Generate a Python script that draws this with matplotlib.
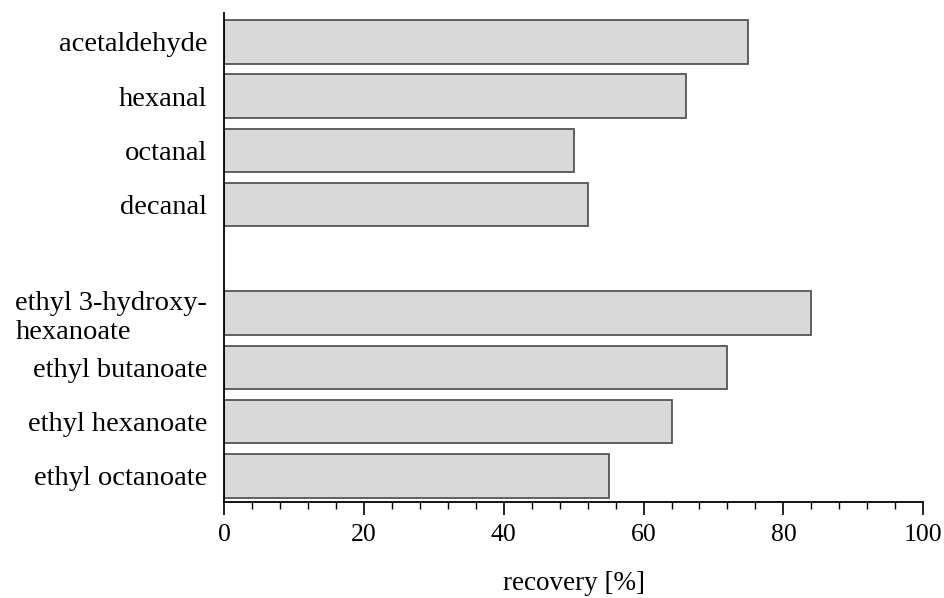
import matplotlib
matplotlib.use("Agg")
import matplotlib.pyplot as plt
from matplotlib.ticker import MultipleLocator

categories = ["acetaldehyde", "hexanal", "octanal", "decanal",
              "ethyl 3-hydroxy-\nhexanoate", "ethyl butanoate",
              "ethyl hexanoate", "ethyl octanoate"]
recovery = [75, 66, 50, 52, 84, 72, 64, 55]
positions = [0, 1, 2, 3, 5, 6, 7, 8]

plt.rcParams['font.family'] = ['Liberation Serif', 'DejaVu Serif']

fig = plt.figure(figsize=(9.45, 5.98), dpi=100)
ax = fig.add_axes([0.237, 0.1605, 0.740, 0.8175])

ax.barh(positions, recovery, height=0.8, color="#d9d9d9", edgecolor="#555555", linewidth=1.3)

ax.set_xlim(0, 100)
ax.set_ylim(8.48, -0.53)
ax.set_yticks(positions)
ax.set_yticklabels(categories, fontsize=20.5, multialignment='left', linespacing=1.2)
ax.tick_params(axis='y', length=0, pad=12)
ax.xaxis.set_major_locator(MultipleLocator(20))
ax.xaxis.set_minor_locator(MultipleLocator(4))
ax.tick_params(axis='x', which='major', length=9, width=1.2, labelsize=18.5, pad=7, direction='out')
ax.tick_params(axis='x', which='minor', length=5, width=1.0, direction='out')
ax.spines['top'].set_visible(False)
ax.spines['right'].set_visible(False)
ax.spines['left'].set_linewidth(1.3)
ax.spines['bottom'].set_linewidth(1.3)
ax.set_xlabel("recovery [%]", fontsize=19.5, labelpad=18)

fig.savefig("out.png", dpi=100)
